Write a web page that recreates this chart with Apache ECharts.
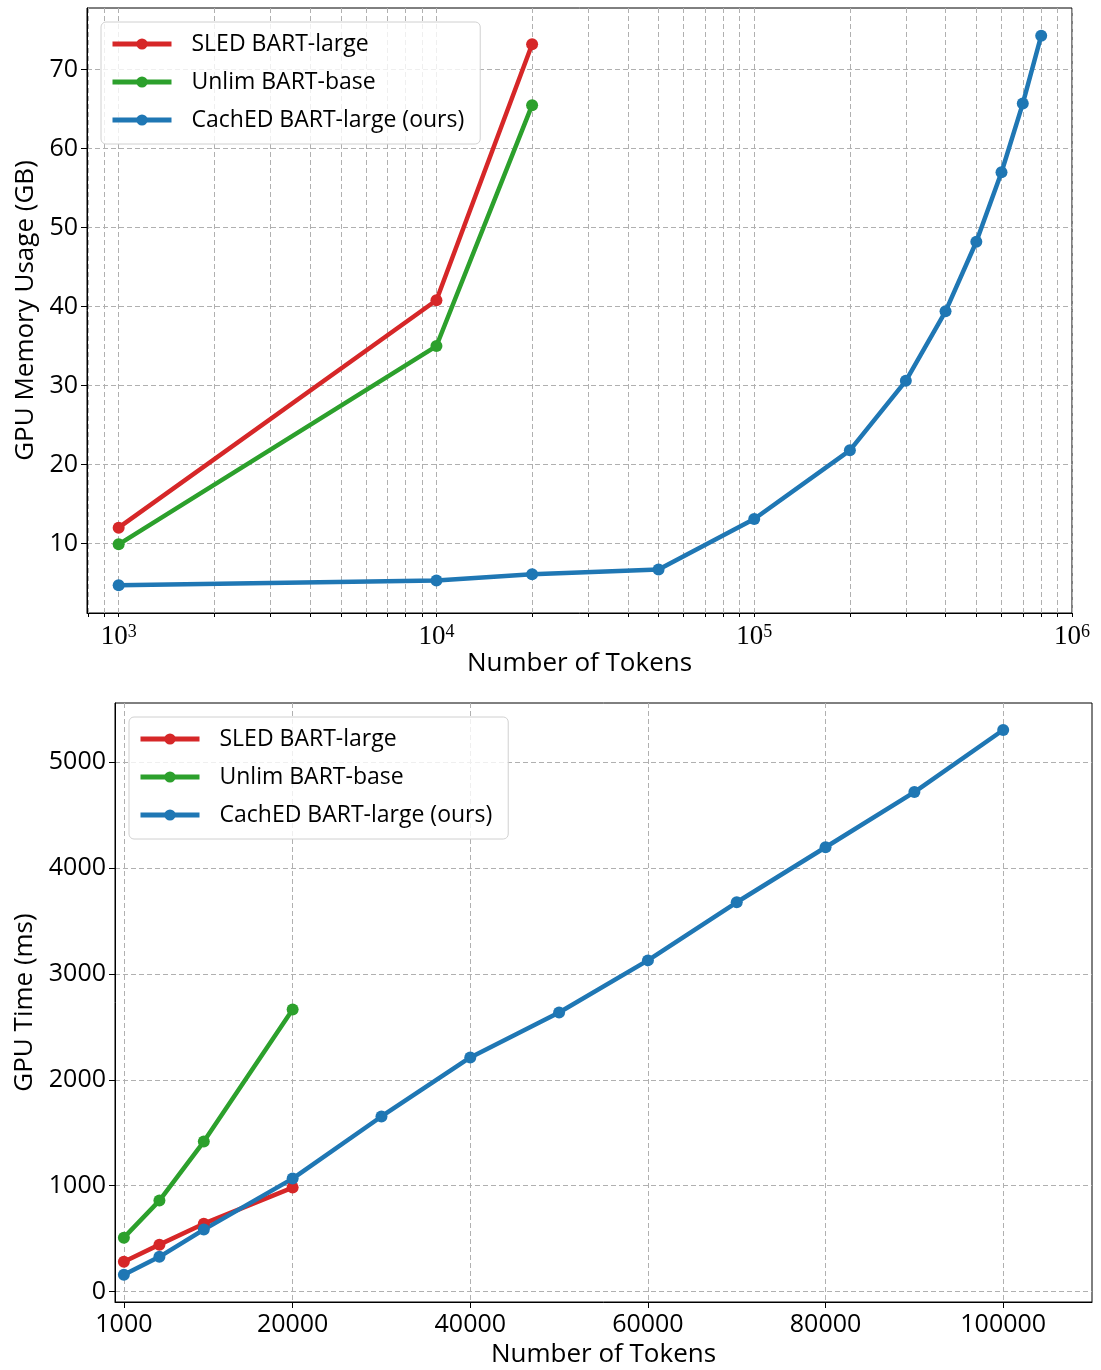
<!DOCTYPE html>
<html>
<head>
<meta charset="utf-8">
<script src="https://cdn.jsdelivr.net/npm/echarts@6/dist/echarts.min.js"></script>
<style>
  html, body { margin: 0; padding: 0; background: #fff; }
  #chart { width: 1101px; height: 1370px; }
</style>
</head>
<body>
<div id="chart"></div>
<script>
// top panel: memory vs tokens (log x)
const memSledX = [1000, 10000, 20000];
const memSled = [12.0, 40.8, 73.2];
const memUnlimX = [1000, 10000, 20000];
const memUnlim = [9.9, 35.0, 65.5];
const memCachedX = [1000, 10000, 20000, 50000, 100000, 200000, 300000, 400000, 500000, 600000, 700000, 800000];
const memCached = [4.7, 5.3, 6.1, 6.7, 13.1, 21.8, 30.6, 39.4, 48.2, 57.0, 65.7, 74.3];
const memYTicks = [10, 20, 30, 40, 50, 60, 70];
const memXLabels = [1000, 10000, 100000, 1000000];
const memXMinor = [800, 900, 1000, 2000, 3000, 4000, 5000, 6000, 7000, 8000, 9000,
  10000, 20000, 30000, 40000, 50000, 60000, 70000, 80000, 90000,
  100000, 200000, 300000, 400000, 500000, 600000, 700000, 800000, 900000, 1000000];

// bottom panel: time vs tokens
const timeSledX = [1000, 5000, 10000, 20000];
const timeSled = [281, 442, 640, 981];
const timeUnlimX = [1000, 5000, 10000, 20000];
const timeUnlim = [508, 858, 1416, 2664];
const timeCachedX = [1000, 5000, 10000, 20000, 30000, 40000, 50000, 60000, 70000, 80000, 90000, 100000];
const timeCached = [158, 327, 584, 1066, 1653, 2211, 2636, 3128, 3677, 4197, 4718, 5305];
const timeYTicks = [0, 1000, 2000, 3000, 4000, 5000];
const timeXTicks = [1000, 20000, 40000, 60000, 80000, 100000];

const names = ['SLED BART-large', 'Unlim BART-base', 'CachED BART-large (ours)'];
const colors = ['#d62728', '#2ca02c', '#1f77b4'];
const sans = 'Open Sans';

function pairs(xs, ys) {
  return xs.map((x, i) => [x, ys[i]]);
}

function lineSeries(idx, xi, data) {
  return {
    name: names[idx],
    type: 'line',
    xAxisIndex: xi,
    yAxisIndex: xi,
    data: data,
    symbol: 'circle',
    symbolSize: 12,
    showAllSymbol: true,
    lineStyle: { width: 4.5, color: colors[idx] },
    itemStyle: { color: colors[idx] },
    emphasis: { disabled: true },
    animation: false
  };
}

const gridLine = { show: true, lineStyle: { color: '#b0b0b0', width: 1, type: [5, 3] } };
const axisLine = { show: true, onZero: false, lineStyle: { color: '#000', width: 1 } };
const plain = v => String(v);

function legendBox(left, top) {
  return {
    data: names,
    orient: 'vertical',
    left: left,
    top: top,
    itemWidth: 59,
    itemHeight: 14,
    itemGap: 12,
    padding: [9, 16, 11, 9],
    backgroundColor: 'rgba(255,255,255,0.8)',
    borderColor: '#d0d0d0',
    borderWidth: 1,
    borderRadius: 5,
    lineStyle: { width: 5 },
    textStyle: { fontFamily: sans, fontSize: 23, color: '#000', lineHeight: 26, padding: [0, 0, 0, 15] }
  };
}

const chart = echarts.init(document.getElementById('chart'));
chart.setOption({
  animation: false,
  color: colors,
  legend: [legendBox(101, 22), legendBox(129, 717)],
  grid: [
    { left: 87, right: 29, top: 8, height: 605, show: true, borderColor: '#000', borderWidth: 1 },
    { left: 115, right: 9, top: 703, height: 599, show: true, borderColor: '#000', borderWidth: 1 }
  ],
  xAxis: [
    {
      gridIndex: 0,
      type: 'log',
      logBase: 10,
      min: 795,
      max: 1000000,
      name: 'Number of Tokens',
      nameLocation: 'middle',
      nameGap: 38,
      nameTextStyle: { fontFamily: sans, fontSize: 26, color: '#000' },
      axisLine: axisLine,
      axisTick: { show: true, length: 4, customValues: memXMinor, lineStyle: { color: '#000' } },
      axisLabel: {
        customValues: memXLabels,
        margin: 10,
        color: '#000',
        formatter: v => '{b|10}{s|' + Math.round(Math.log10(v)) + '}',
        rich: {
          b: { fontFamily: 'Liberation Serif', fontSize: 27, color: '#000' },
          s: { fontFamily: 'Liberation Serif', fontSize: 18, color: '#000', verticalAlign: 'top' }
        }
      },
      splitLine: gridLine,
      minorTick: { show: false }
    },
    {
      gridIndex: 1,
      type: 'value',
      min: 0,
      max: 110000,
      name: 'Number of Tokens',
      nameLocation: 'middle',
      nameGap: 40,
      nameTextStyle: { fontFamily: sans, fontSize: 26, color: '#000' },
      axisLine: axisLine,
      axisTick: { show: true, length: 6, customValues: timeXTicks, lineStyle: { color: '#000' } },
      axisLabel: { customValues: timeXTicks, formatter: plain, margin: 10, fontFamily: sans, fontSize: 25, color: '#000' },
      splitLine: gridLine
    }
  ],
  yAxis: [
    {
      gridIndex: 0,
      type: 'value',
      min: 1.2,
      max: 77.8,
      name: 'GPU Memory Usage (GB)',
      nameLocation: 'middle',
      nameGap: 46,
      nameTextStyle: { fontFamily: sans, fontSize: 26, color: '#000' },
      axisLine: axisLine,
      axisTick: { show: true, length: 6, customValues: memYTicks, lineStyle: { color: '#000' } },
      axisLabel: { customValues: memYTicks, formatter: plain, margin: 9, fontFamily: sans, fontSize: 25, color: '#000' },
      splitLine: gridLine
    },
    {
      gridIndex: 1,
      type: 'value',
      min: -100,
      max: 5560,
      name: 'GPU Time (ms)',
      nameLocation: 'middle',
      nameGap: 74,
      nameTextStyle: { fontFamily: sans, fontSize: 26, color: '#000' },
      axisLine: axisLine,
      axisTick: { show: true, length: 6, customValues: timeYTicks, lineStyle: { color: '#000' } },
      axisLabel: { customValues: timeYTicks, formatter: plain, margin: 9, fontFamily: sans, fontSize: 25, color: '#000' },
      splitLine: gridLine
    }
  ],
  series: [
    lineSeries(0, 0, pairs(memSledX, memSled)),
    lineSeries(1, 0, pairs(memUnlimX, memUnlim)),
    lineSeries(2, 0, pairs(memCachedX, memCached)),
    lineSeries(0, 1, pairs(timeSledX, timeSled)),
    lineSeries(1, 1, pairs(timeUnlimX, timeUnlim)),
    lineSeries(2, 1, pairs(timeCachedX, timeCached))
  ]
});
</script>
</body>
</html>
